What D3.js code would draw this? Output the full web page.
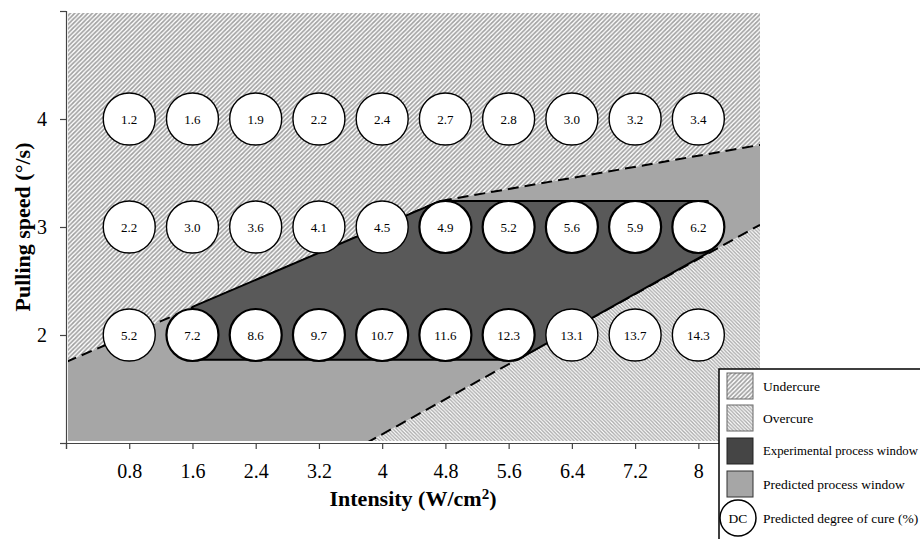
<!DOCTYPE html>
<html>
<head>
<meta charset="utf-8">
<script src="https://cdn.jsdelivr.net/npm/d3@7"></script>
<style>
  body { margin: 0; background: #fff; }
  text { font-family: "Liberation Serif", "Times New Roman", serif; }
</style>
</head>
<body>
<svg id="chart" width="920" height="539"></svg>
<script>
// Intensity grid (W/cm²) and pulling speeds (°/s)
const intensities = [0.8, 1.6, 2.4, 3.2, 4, 4.8, 5.6, 6.4, 7.2, 8];
const intensityLabels = ["0.8", "1.6", "2.4", "3.2", "4", "4.8", "5.6", "6.4", "7.2", "8"];
const speeds = [4, 3, 2];
const speedTicks = [1, 2, 3, 4, 5];
const speedLabels = ["", "2", "3", "4", ""];

// Predicted degree of cure (%) per speed row
const cureAt4 = [1.2, 1.6, 1.9, 2.2, 2.4, 2.7, 2.8, 3.0, 3.2, 3.4];
const cureAt3 = [2.2, 3.0, 3.6, 4.1, 4.5, 4.9, 5.2, 5.6, 5.9, 6.2];
const cureAt2 = [5.2, 7.2, 8.6, 9.7, 10.7, 11.6, 12.3, 13.1, 13.7, 14.3];

// Intensities that were tested experimentally at each speed
const testedAt3 = [4.8, 5.6, 6.4, 7.2, 8];
const testedAt2 = [1.6, 2.4, 3.2, 4, 4.8, 5.6];

// Process window boundaries (intensity, speed)
const xMax = 8.78;
const undercureLimit = [[0, 1.75], [4.73, 3.24], [xMax, 3.76]];
const overcureLimit = [[3.8, 1.0], [xMax, 3.02]];
const experimentalWindow = [[1.6, 1.77], [5.71, 1.77], [8.12, 2.76], [8.12, 3.24], [4.73, 3.24], [1.6, 2.26]];

const svg = d3.select("#chart");

const x = d3.scaleLinear().domain([0, xMax]).range([66, 760]);
const y = d3.scaleLinear().domain([1, 5]).range([443, 11]);

const defs = svg.append("defs");

function hatch(id, size, dir, color, width) {
  const p = defs.append("pattern")
    .attr("id", id)
    .attr("patternUnits", "userSpaceOnUse")
    .attr("width", size).attr("height", size);
  p.append("rect").attr("width", size).attr("height", size).attr("fill", "#fff");
  const d = dir > 0
    ? `M${-size / 2},${size / 2} L${size / 2},${-size / 2} M0,${size} L${size},0 M${size / 2},${size * 1.5} L${size * 1.5},${size / 2}`
    : `M${-size / 2},${size / 2} L${size / 2},${size * 1.5} M0,0 L${size},${size} M${size / 2},${-size / 2} L${size * 1.5},${size / 2}`;
  p.append("path").attr("d", d).attr("stroke", color).attr("stroke-width", width);
}
hatch("undercure", 4.4, 1, "#a0a0a0", 1.7);
hatch("overcure", 3.6, -1, "#aaaaaa", 1.4);

defs.append("clipPath").attr("id", "plotClip")
  .append("rect")
  .attr("x", x(0) + 2).attr("y", y(5) + 2)
  .attr("width", x(xMax) - x(0) - 2)
  .attr("height", y(1) - y(5) - 4);

const line = d3.line().x(d => x(d[0])).y(d => y(d[1]));
const area = d3.line().x(d => x(d[0])).y(d => y(d[1])).curve(d3.curveLinearClosed);

const plot = svg.append("g").attr("clip-path", "url(#plotClip)");

// Undercure region (above the upper limit)
plot.append("path")
  .attr("d", area([[0, 5], [xMax, 5], ...undercureLimit.slice().reverse()]))
  .attr("fill", "url(#undercure)");

// Overcure region (below the lower limit)
plot.append("path")
  .attr("d", area([...overcureLimit, [xMax, 1]]))
  .attr("fill", "url(#overcure)");

// Predicted process window
plot.append("path")
  .attr("d", area([[0, 1], ...undercureLimit, ...overcureLimit.slice().reverse()]))
  .attr("fill", "#a6a6a6");

// Limit lines
[undercureLimit, overcureLimit].forEach(limit => {
  plot.append("path").attr("d", line(limit))
    .attr("fill", "none").attr("stroke", "#000").attr("stroke-width", 2)
    .attr("stroke-dasharray", "11,6");
});

// Experimental process window
plot.append("path")
  .attr("d", area(experimentalWindow))
  .attr("fill", "#595959")
  .attr("stroke", "#000").attr("stroke-width", 2).attr("stroke-linejoin", "round");

// Axes
const xAxis = svg.append("g")
  .attr("transform", `translate(0,${y(1)})`)
  .call(d3.axisBottom(x)
    .tickValues([0, ...intensities])
    .tickFormat((d, i) => i === 0 ? "" : intensityLabels[i - 1])
    .tickSizeOuter(0).tickSize(6).tickPadding(15));
const yAxis = svg.append("g")
  .attr("transform", `translate(${x(0)},0)`)
  .call(d3.axisLeft(y)
    .tickValues(speedTicks)
    .tickFormat((d, i) => speedLabels[i])
    .tickSizeOuter(0).tickSize(6).tickPadding(13));
[xAxis, yAxis].forEach(g => {
  g.selectAll("path, line").attr("stroke", "#444").attr("stroke-width", 1.2);
  g.selectAll("text").attr("font-size", 20).attr("fill", "#000")
    .style("font-family", '"Liberation Serif", "Times New Roman", serif');
});

// Degree-of-cure markers
const rows = [
  { speed: speeds[0], values: cureAt4, tested: [] },
  { speed: speeds[1], values: cureAt3, tested: testedAt3 },
  { speed: speeds[2], values: cureAt2, tested: testedAt2 }
];
const markers = svg.append("g");
rows.forEach(row => {
  const g = markers.selectAll(null)
    .data(row.values.map((v, i) => ({ v, xi: intensities[i], tested: row.tested.includes(intensities[i]) })))
    .enter().append("g")
    .attr("transform", d => `translate(${x(d.xi)},${y(row.speed)})`);
  g.append("circle").attr("r", 26)
    .attr("fill", "#fff").attr("stroke", "#000")
    .attr("stroke-width", d => d.tested ? 2.2 : 1.4);
  g.append("text")
    .attr("text-anchor", "middle").attr("dy", "0.35em")
    .attr("font-size", 13)
    .text(d => d.v.toFixed(1));
});

// Axis titles
const xt = svg.append("text")
  .attr("x", (x(0) + x(xMax)) / 2).attr("y", 506)
  .attr("text-anchor", "middle")
  .attr("font-size", 22).attr("font-weight", "bold");
xt.append("tspan").text("Intensity (W/cm");
xt.append("tspan").text("2").attr("font-size", 15).attr("dy", -7);
xt.append("tspan").text(")").attr("dy", 7);

svg.append("text")
  .attr("transform", `translate(30,${y(3)}) rotate(-90)`)
  .attr("text-anchor", "middle")
  .attr("font-size", 22).attr("font-weight", "bold")
  .text("Pulling speed (°/s)");

// Legend
const legend = svg.append("g");
legend.append("rect")
  .attr("x", 719).attr("y", 369).attr("width", 220).attr("height", 190)
  .attr("fill", "#fff").attr("stroke", "#000").attr("stroke-width", 1.5);

const legendItems = [
  { label: "Undercure", fill: "url(#undercure)", stroke: "#666", size: 13.5 },
  { label: "Overcure", fill: "url(#overcure)", stroke: "#666", size: 13.5 },
  { label: "Experimental process window", fill: "#454545", stroke: "#222", size: 12.8 },
  { label: "Predicted process window", fill: "#a6a6a6", stroke: "#333", size: 13.5 }
];
const legendY = [386, 418, 451, 484];
legendItems.forEach((it, i) => {
  legend.append("rect")
    .attr("x", 727).attr("y", legendY[i] - 13).attr("width", 26).attr("height", 26)
    .attr("fill", it.fill).attr("stroke", it.stroke).attr("stroke-width", 1);
  legend.append("text")
    .attr("x", 763).attr("y", legendY[i]).attr("dy", "0.35em")
    .attr("font-size", it.size).text(it.label);
});
legend.append("circle").attr("cx", 738).attr("cy", 518).attr("r", 18)
  .attr("fill", "#fff").attr("stroke", "#000").attr("stroke-width", 1.5);
legend.append("text").attr("x", 738).attr("y", 518).attr("dy", "0.35em")
  .attr("text-anchor", "middle").attr("font-size", 13.5).text("DC");
legend.append("text").attr("x", 763).attr("y", 518).attr("dy", "0.35em")
  .attr("font-size", 13.5).text("Predicted degree of cure (%)");
</script>
</body>
</html>
